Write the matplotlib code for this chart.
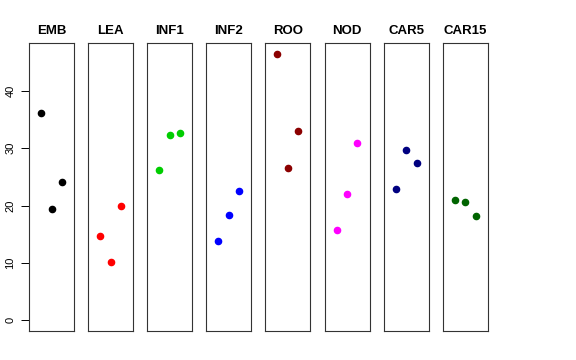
import numpy as np
import matplotlib.pyplot as plt

plt.rcParams['font.family'] = ['Liberation Sans', 'DejaVu Sans']

# tissues and their three replicate values
tissues = ['EMB', 'LEA', 'INF1', 'INF2', 'ROO', 'NOD', 'CAR5', 'CAR15']
colors = ['black', 'red', '#00CD00', 'blue', '#8B0000', 'magenta', '#000080', '#006400']
values = [
    [36.1, 19.4, 24.2],
    [14.7, 10.2, 19.9],
    [26.3, 32.3, 32.7],
    [13.8, 18.4, 22.6],
    [46.5, 26.5, 33.0],
    [15.8, 22.1, 30.9],
    [22.9, 29.7, 27.4],
    [20.9, 20.6, 18.2],
]
reps = [1, 2, 3]

fig = plt.figure(figsize=(5.76, 3.6), dpi=100)

ymax = max(max(v) for v in values)
ylo, yhi = 0 - 0.04 * ymax, ymax * 1.04

for i, (name, col, vals) in enumerate(zip(tissues, colors, values)):
    left = (29 + i * 59.1) / 576
    ax = fig.add_axes([left, 29 / 360, 45 / 576, 288 / 360])
    ax.scatter(reps, vals, s=20, color=col, zorder=3)
    ax.set_xlim(-0.16, 4.16)
    ax.set_ylim(ylo, yhi)
    ax.set_xticks([])
    ax.set_title(name, fontsize=9.5, fontweight='bold', pad=6.5)
    for sp in ax.spines.values():
        sp.set_linewidth(0.8)
        sp.set_color('#333333')
    if i == 0:
        ax.set_yticks([0, 10, 20, 30, 40])
        ax.tick_params(axis='y', length=5.8, width=0.7, pad=4, labelsize=8)
        for lab in ax.get_yticklabels():
            lab.set_rotation(90)
            lab.set_va('center')
    else:
        ax.set_yticks([])

fig.savefig('out.png', dpi=100)
